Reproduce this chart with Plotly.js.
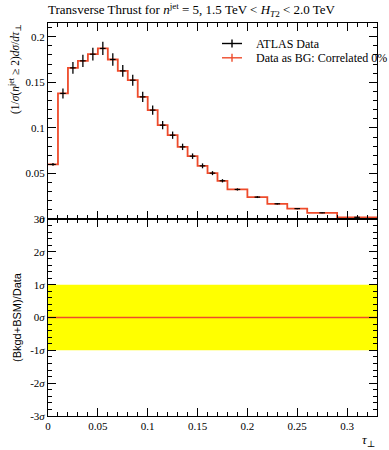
<!DOCTYPE html>
<html>
<head>
<meta charset="utf-8">
<script src="https://cdn.plot.ly/plotly-3.0.1.min.js"></script>
<style>html,body{margin:0;padding:0;background:#fff;}#chart{width:389px;height:450px;}</style>
</head>
<body>
<div id="chart"></div>
<script>
// Bin edges of tau_perp
const binEdges = [0,0.01,0.02,0.03,0.04,0.05,0.06,0.07,0.08,0.09,0.10,0.11,0.12,0.13,0.14,0.15,0.16,0.17,0.18,0.20,0.22,0.24,0.26,0.29,0.33];
// ATLAS data values (1/sigma dsigma/dtau)
const dataValues = [0.0599,0.1378,0.1658,0.1735,0.1808,0.1871,0.1750,0.1625,0.1523,0.1340,0.1195,0.1030,0.0920,0.0792,0.0690,0.0584,0.0504,0.0420,0.0325,0.0241,0.0168,0.0115,0.0069,0.0020];
const dataErrors = [0.0015,0.0055,0.0065,0.0068,0.0070,0.0073,0.0068,0.0065,0.0060,0.0055,0.0050,0.0045,0.0040,0.0035,0.0030,0.0027,0.0022,0.0018,0.0012,0.0010,0.0008,0.0006,0.0005,0.0003];
// Data-as-background prediction (identical to data, correlated 0%)
const bgValues = dataValues.slice();
// Ratio panel: significance band and ratio line
const sigmaBand = [-1, 1];
const ratioValues = binEdges.map(() => 0);
const yTickVals = [0,0.05,0.1,0.15,0.2];
const yTickText = ['0','0.05','0.1','0.15','0.2'];
const xTickVals = [0,0.05,0.1,0.15,0.2,0.25,0.3];
const xTickText = ['0','0.05','0.1','0.15','0.2','0.25','0.3'];
const sigTickVals = [-3,-2,-1,0,1,2,3];
const sigTickText = ['-3<i>σ</i>','-2<i>σ</i>','-1<i>σ</i>','0<i>σ</i>','1<i>σ</i>','2<i>σ</i>','3<i>σ</i>'];
const legendNames = ['ATLAS Data', 'Data as BG: Correlated 0%'];

const centers = dataValues.map((v,i) => (binEdges[i]+binEdges[i+1])/2);
const stepX = binEdges.slice();
const stepY = bgValues.concat([bgValues[bgValues.length-1]]);

const RED = '#EE4B2B';
const serif = 'Liberation Serif, DejaVu Serif, serif';

// plot-area geometry in pixels (for legend placement in paper coords)
const W = 389, H = 450, ML = 48, MR = 12, MT = 23, MB = 34;
const px = x => (x - ML) / (W - ML - MR);
const py = y => (H - MB - y) / (H - MT - MB);

const traces = [
  {x: [binEdges[0], binEdges[binEdges.length-1], binEdges[binEdges.length-1], binEdges[0]],
   y: [sigmaBand[0], sigmaBand[0], sigmaBand[1], sigmaBand[1]],
   fill: 'toself', fillcolor: '#ffff00', line: {width: 0}, mode: 'lines',
   xaxis: 'x2', yaxis: 'y2', showlegend: false, hoverinfo: 'skip'},
  {x: binEdges, y: ratioValues, mode: 'lines', line: {color: RED, width: 1.5},
   xaxis: 'x2', yaxis: 'y2', showlegend: false},
  {x: stepX, y: stepY, mode: 'lines', line: {shape: 'hv', color: RED, width: 1.8},
   name: legendNames[1], showlegend: false, xaxis: 'x', yaxis: 'y'},
  {x: centers, y: dataValues, mode: 'markers',
   marker: {symbol: 'line-ew', size: 4, color: 'black', line: {color: 'black', width: 1.2}},
   error_y: {type: 'data', array: dataErrors, visible: true, color: 'black', thickness: 1.3, width: 0},
   name: legendNames[0], showlegend: false, xaxis: 'x', yaxis: 'y'}
];

const axisCommon = {
  showline: true, linecolor: 'black', linewidth: 1, mirror: 'allticks',
  ticks: 'inside', ticklen: 8, tickcolor: 'black', tickwidth: 1,
  showgrid: false, zeroline: false,
  tickfont: {family: serif, size: 11, color: 'black'}
};

// manual legend (line + vertical error bar symbol, then text)
const legShapes = [];
const legAnn = [];
[[43.5, 'black', legendNames[0]], [57.8, RED, legendNames[1]]].forEach(([yy, col, name]) => {
  legShapes.push({type: 'line', xref: 'paper', yref: 'paper', x0: px(222), x1: px(242), y0: py(yy), y1: py(yy),
                  line: {color: col, width: 1.4}});
  legShapes.push({type: 'line', xref: 'paper', yref: 'paper', x0: px(232), x1: px(232), y0: py(yy - 4), y1: py(yy + 4),
                  line: {color: col, width: 1.4}});
  legAnn.push({text: name, xref: 'paper', yref: 'paper', x: px(254), y: py(yy), xanchor: 'left', yanchor: 'middle',
               showarrow: false, font: {family: serif, size: 12, color: 'black'}});
});

const layout = {
  width: W, height: H,
  margin: {l: ML, r: MR, t: MT, b: MB, autoexpand: false},
  paper_bgcolor: 'white', plot_bgcolor: 'white',
  font: {family: serif, color: 'black'},
  showlegend: false,
  title: {text: 'Transverse Thrust for <i>n</i><sup>jet</sup> = 5, 1.5 TeV &lt; <i>H</i><sub><i>T</i>2</sub> &lt; 2.0 TeV',
          x: 48/389, xanchor: 'left', xref: 'container', y: 0.978, yanchor: 'middle',
          font: {family: serif, size: 13, color: 'black'}},
  xaxis: Object.assign({}, axisCommon, {domain: [0,1], range: [0, 0.33], anchor: 'y',
          tickvals: xTickVals, showticklabels: false,
          minor: {dtick: 0.01, tick0: 0, ticks: 'inside', ticklen: 4, tickcolor: 'black'}}),
  yaxis: Object.assign({}, axisCommon, {domain: [0.501, 1], range: [0, 0.215], anchor: 'x',
          tickvals: yTickVals, ticktext: yTickText,
          minor: {dtick: 0.01, tick0: 0, ticks: 'inside', ticklen: 4, tickcolor: 'black'}}),
  xaxis2: Object.assign({}, axisCommon, {domain: [0,1], range: [0, 0.33], anchor: 'y2',
          tickvals: xTickVals, ticktext: xTickText,
          minor: {dtick: 0.01, tick0: 0, ticks: 'inside', ticklen: 4, tickcolor: 'black'}}),
  yaxis2: Object.assign({}, axisCommon, {domain: [0, 0.501], range: [-3, 3], anchor: 'x2',
          tickvals: sigTickVals, ticktext: sigTickText,
          minor: {dtick: 0.2, tick0: 0, ticks: 'inside', ticklen: 4, tickcolor: 'black'},
          title: {text: '(Bkgd+BSM)/Data', font: {family: 'Liberation Sans, DejaVu Sans, sans-serif', size: 11, color: 'black'}, standoff: 6}}),
  shapes: legShapes,
  annotations: [
    {text: '(1/<i>σ</i>(<i>n</i><sup>jet</sup> ≥ 2)<i>dσ</i>/<i>dτ</i><sub>⊥</sub>', textangle: -90,
     xref: 'paper', yref: 'paper', x: px(15), y: py(22), xanchor: 'center', yanchor: 'top',
     showarrow: false, font: {family: serif, size: 11.5, color: 'black'}},
    {text: '<i>τ</i><sub>⊥</sub>', xref: 'paper', yref: 'paper', x: 1, y: py(440),
     xanchor: 'right', yanchor: 'middle', showarrow: false, font: {family: serif, size: 13, color: 'black'}}
  ].concat(legAnn)
};

Plotly.newPlot('chart', traces, layout, {staticPlot: true, displayModeBar: false});
</script>
</body>
</html>
